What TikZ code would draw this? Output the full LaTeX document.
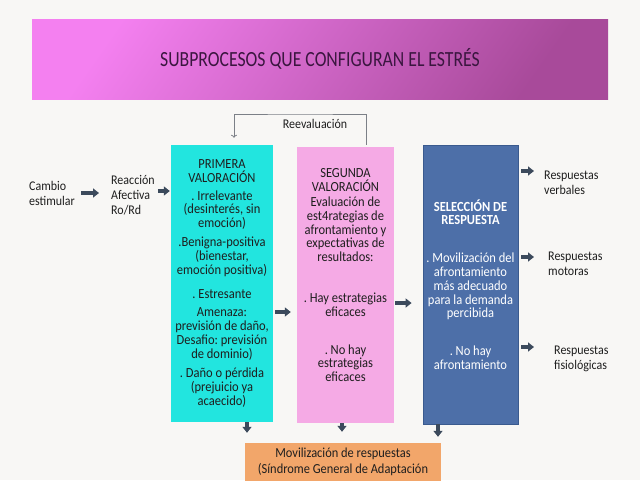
\documentclass[tikz,border=0pt]{standalone}
\usepackage{fontspec}
\setmainfont{Carlito}[FakeStretch=0.9]
\newfontfamily\titlefont{Carlito}[FakeStretch=0.82]
\usetikzlibrary{arrows.meta}
\definecolor{bgc}{HTML}{F8F7F5}
\definecolor{bant}{HTML}{F480F0}
\definecolor{banb}{HTML}{A84A9A}
\definecolor{titc}{HTML}{3B1640}
\definecolor{cyanc}{HTML}{22E5DF}
\definecolor{pinkc}{HTML}{F5AAE5}
\definecolor{bluec}{HTML}{4D6FA8}
\definecolor{blued}{HTML}{3A5A8E}
\definecolor{orangec}{HTML}{F2A66A}
\definecolor{txtc}{HTML}{1E1E1E}
\definecolor{arrc}{HTML}{3C4A5C}
\definecolor{fbc}{HTML}{7C8087}
\frenchspacing

\begin{document}
\begin{tikzpicture}[x=1pt,y=-1pt,
  box/.style={rectangle,inner sep=0pt,align=center,text=txtc,font=\fontsize{13.9}{13.8}\selectfont},
  lbl/.style={inner sep=0pt,align=left,anchor=west,text=txtc,font=\fontsize{13.3}{15}\selectfont},
  blk/.style={draw=arrc,line width=3.2pt,-{Triangle[length=6pt,width=9pt]}},
  fb/.style={draw=fbc,line width=0.8pt,-{To[length=3pt,width=6pt]}}]
\clip (0,0) rectangle (640,480);
\fill [bgc] (0,0) rectangle (640,480);

\node [rectangle,top color=bant,bottom color=banb,shading angle=55,minimum width=576pt,minimum height=80pt,text=titc,font=\titlefont\fontsize{21.6}{24}\selectfont] (title) at (320,59) {SUBPROCESOS QUE CONFIGURAN EL ESTRÉS};

\node [lbl] (cambio) at (29,193) {Cambio\\estimular};
\node [lbl] (reac) at (111,195) {Reacción\\Afectiva\\Ro/Rd};

\node [box,fill=cyanc,minimum width=102pt,minimum height=277pt] (prim) at (222,283.5) {PRIMERA\\VALORACIÓN\\[4pt]. Irrelevante\\(desinterés, sin\\emoción)\\[5pt].Benigna-positiva\\(bienestar,\\emoción positiva)\\[11pt]. Estresante\\[4pt]Amenaza:\\previsión de daño,\\Desafio: previsión\\de dominio)\\[6pt]. Daño o pérdida\\(prejuicio ya\\acaecido)};
\node [box,fill=pinkc,minimum width=97pt,minimum height=276pt] (seg) at (345.5,285) {SEGUNDA\\VALORACIÓN\\[1.5pt]Evaluación de\\est4rategias de\\afrontamiento y\\expectativas de\\resultados:\\[27pt]. Hay estrategias\\eficaces\\[24pt]. No hay\\estrategias\\eficaces\\[6pt]\mbox{}};
\node [box,fill=bluec,draw=blued,line width=0.8pt,text=white,minimum width=95pt,minimum height=279pt] (sel) at (470.5,284.5) {\textbf{SELECCIÓN DE}\\\textbf{RESPUESTA}\\[24pt]. Movilización del\\afrontamiento\\más adecuado\\para la demanda\\percibida\\[24pt]. No hay\\afrontamiento};

\node [lbl] (verb) at (544,182.5) {Respuestas\\verbales};
\node [lbl] (mot) at (548,263.5) {Respuestas\\motoras};
\node [lbl] (fis) at (554,359) {Respuestas\\fisiológicas};

\node [box,fill=orangec,minimum width=196pt,minimum height=37.5pt,font=\fontsize{13.8}{16}\selectfont] (movil) at (343,461.75) {Movilización de respuestas\\(Síndrome General de Adaptación};

\node [inner sep=0pt,anchor=base,text=txtc,font=\fontsize{13.3}{15}\selectfont] (reev) at (315,128) {Reevaluación};
\coordinate (fbtop) at (300,114);

\draw [fb,shorten <=2pt,shorten >=7pt] ([xshift=20.5pt]seg.north) |- (fbtop) -| ([xshift=12pt]prim.north);

\draw [blk,shorten <=6pt,shorten >=12pt] (cambio.east) -- (cambio.east -| reac.west);
\draw [blk,shorten <=3pt,shorten >=1pt] ([yshift=4pt]reac.east) -- ([yshift=4pt]reac.east -| prim.west);
\draw [blk,shorten <=2pt,shorten >=6pt] ([yshift=-28.5pt]prim.east) -- ([yshift=-28.5pt]prim.east -| seg.west);
\draw [blk,shorten <=1pt,shorten >=11pt] ([yshift=-18pt]seg.east) -- ([yshift=-18pt]seg.east -| sel.west);
\draw [blk,shorten <=3pt,shorten >=10pt] ([yshift=11.5pt]verb.west -| sel.east) -- ([yshift=11.5pt]verb.west);
\draw [blk,shorten <=3pt,shorten >=14pt] ([yshift=6.5pt]mot.west -| sel.east) -- ([yshift=6.5pt]mot.west);
\draw [blk,shorten <=3pt,shorten >=20pt] ([yshift=12pt]fis.west -| sel.east) -- ([yshift=12pt]fis.west);

\draw [blk,shorten >=10pt] ([xshift=25pt]prim.south) -- ([xshift=25pt]prim.south |- movil.north);
\draw [blk,shorten >=11pt] ([xshift=-3.5pt]seg.south) -- ([xshift=-3.5pt]seg.south |- movil.north);
\draw [blk,shorten >=6pt] ([xshift=-32.5pt]sel.south) -- ([xshift=-32.5pt]sel.south |- movil.north);
\end{tikzpicture}
\end{document}
